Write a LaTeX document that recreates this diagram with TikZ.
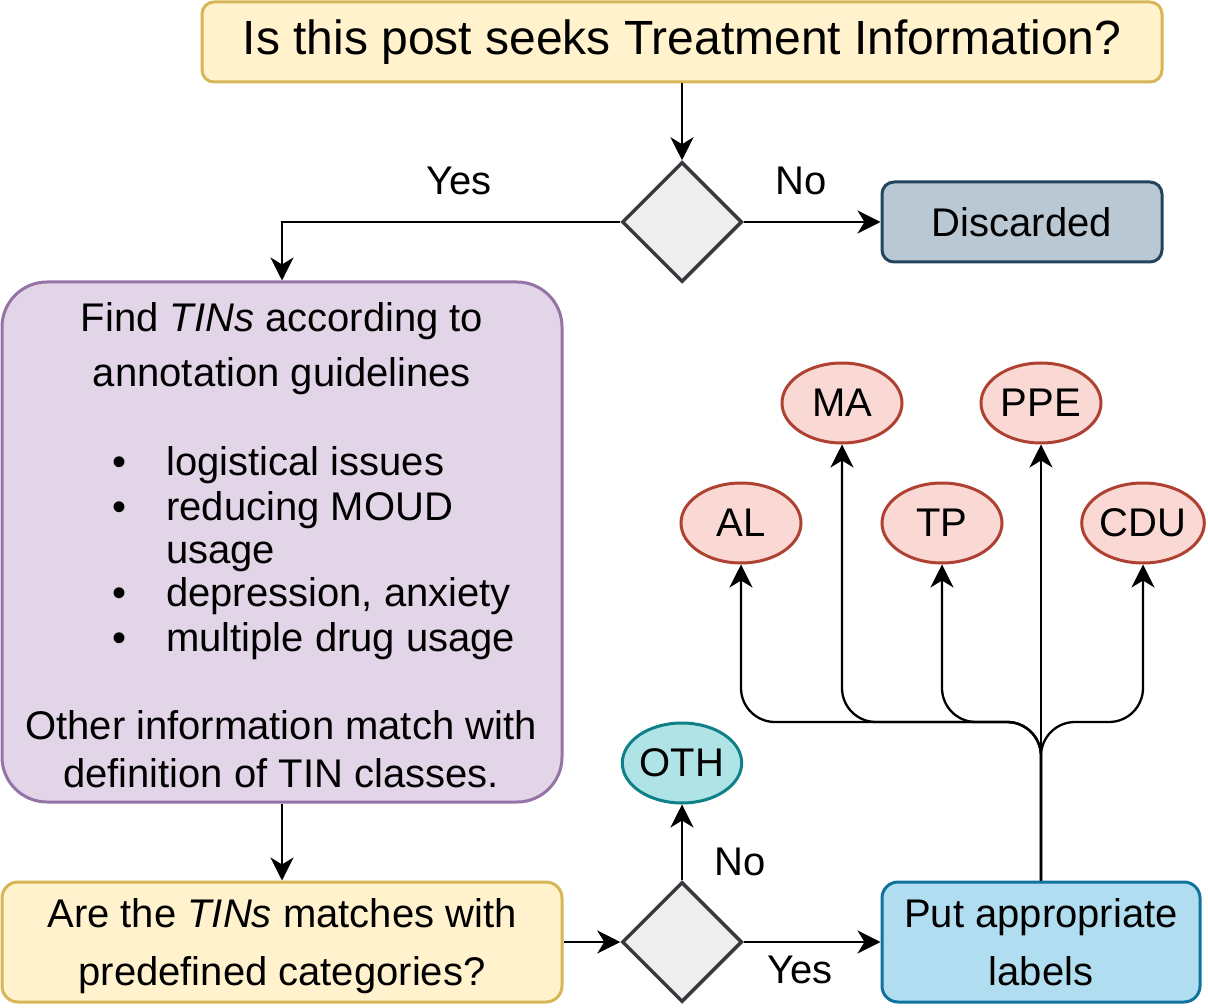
\documentclass[tikz,border=0pt]{standalone}
\usepackage{fontspec}
\setmainfont{Liberation Sans}
\usetikzlibrary{positioning, arrows.meta, shapes.geometric}

\definecolor{askfill}{HTML}{FFF2CC}
\definecolor{askdraw}{HTML}{D6B656}
\definecolor{decfill}{HTML}{EEEEEE}
\definecolor{decdraw}{HTML}{36393D}
\definecolor{discfill}{HTML}{BAC8D3}
\definecolor{discdraw}{HTML}{23445D}
\definecolor{guidefill}{HTML}{E1D5E7}
\definecolor{guidedraw}{HTML}{9673A6}
\definecolor{putfill}{HTML}{B1DDF0}
\definecolor{putdraw}{HTML}{10739E}
\definecolor{tinfill}{HTML}{FAD9D5}
\definecolor{tindraw}{HTML}{AE4132}
\definecolor{othfill}{HTML}{B0E3E6}
\definecolor{othdraw}{HTML}{0E8088}

\begin{document}
\begin{tikzpicture}[
        x=1pt, y=-1pt,
        % Define styles for consistency
        qbox/.style={rectangle, rounded corners=12pt, line width=3pt, inner sep=0pt,
            align=center, text depth=0pt, font=\fontsize{40}{58}\selectfont},
        decision/.style={diamond, fill=decfill, draw=decdraw, line width=3.5pt,
            minimum width=120pt, minimum height=120pt, inner sep=0pt},
        tinclass/.style={ellipse, fill=tinfill, draw=tindraw, line width=3pt,
            minimum width=120pt, minimum height=80pt, inner sep=0pt,
            font=\fontsize{40}{48}\selectfont},
        answer/.style={anchor=base, inner sep=0pt, font=\fontsize{40}{48}\selectfont},
        flow/.style={-{Stealth[length=23pt, width=23pt, inset=7pt]}, line width=2.3pt}
    ]

        \useasboundingbox (0,0) rectangle (1208,1008);

        % --- Boxes ---
        \node[qbox, fill=askfill, draw=askdraw, minimum width=960pt, minimum height=80pt,
            text depth=, font=\fontsize{48}{56}\selectfont] (ask) at (682,42)
            {Is this post seeks Treatment Information?};
        \node[decision] (q1) at (682,222) {};
        \node[qbox, fill=discfill, draw=discdraw, minimum width=280pt, minimum height=80pt]
            (disc) at (1022,222) {Discarded};

        \node[qbox, rounded corners=45pt, fill=guidefill, draw=guidedraw,
            minimum width=560pt, minimum height=520pt] (guide) at (282,542) {};

        \node[qbox, rounded corners=16pt, fill=askfill, draw=askdraw, minimum width=560pt,
            minimum height=120pt] (match) at (282,942)
            {Are the \textit{TINs} matches with\\predefined categories?};
        \node[decision] (q2) at (682,942) {};
        \node[qbox, rounded corners=16pt, fill=putfill, draw=putdraw, minimum width=318pt,
            minimum height=120pt] (put) at (1041,942) {Put appropriate\\labels};

        % --- Guideline text ---
        \node[answer] (find) at (282,332) {Find \textit{TINs} according to};
        \node[answer] (annot) at (282,387) {annotation guidelines};
        \node[answer] (b1) at (120,475) {\textbullet};
        \node[answer, anchor=base west] (t1) at (166,475) {logistical issues};
        \node[answer] (b2) at (120,520) {\textbullet};
        \node[answer, anchor=base west] (t2) at (166,520) {reducing MOUD};
        \node[answer, anchor=base west] (t2b) at (166,563) {usage};
        \node[answer] (b3) at (120,606) {\textbullet};
        \node[answer, anchor=base west] (t3) at (166,606) {depression, anxiety};
        \node[answer] (b4) at (120,651) {\textbullet};
        \node[answer, anchor=base west] (t4) at (166,651) {multiple drug usage};
        \node[answer] (other) at (281,739) {Other information match with};
        \node[answer] (defn) at (281,787) {definition of TIN classes.};

        % --- Classes ---
        \node[tinclass] (al) at (741,523) {AL};
        \node[tinclass] (ma) at (842,403) {MA};
        \node[tinclass] (tp) at (942,523) {TP};
        \node[tinclass] (ppe) at (1041,403) {PPE};
        \node[tinclass] (cdu) at (1143,523) {CDU};
        \node[tinclass, fill=othfill, draw=othdraw, minimum width=112pt] (oth) at (682,763) {OTH};

        % --- Draw Edges ---
        \draw[flow] (ask) -- (q1);
        \draw[flow] (q1) -- (disc);
        \draw[flow] (q1.west) -| (guide.north);
        \draw[flow] (guide) -- (match);
        \draw[flow] (match) -- (q2);
        \draw[flow] (q2) -- (oth);
        \draw[flow] (q2) -- (put);

        % Fork to the classes
        \coordinate (fork) at (1041,722);
        \draw[flow, rounded corners=34pt] (put.north) -- (fork) -| (al.south);
        \draw[flow, rounded corners=34pt] (put.north) -- (fork) -| (ma.south);
        \draw[flow, rounded corners=34pt] (put.north) -- (fork) -| (tp.south);
        \draw[flow, rounded corners=34pt] (put.north) -- (fork) -| (cdu.south);
        \draw[flow] (put.north) -- (ppe.south);

        % --- Answers ---
        \node[answer] (yes1) at (459,195) {Yes};
        \node[answer] (no1) at (801,195) {No};
        \node[answer] (no2) at (740,875) {No};
        \node[answer] (yes2) at (800,983) {Yes};

    \end{tikzpicture}
\end{document}
